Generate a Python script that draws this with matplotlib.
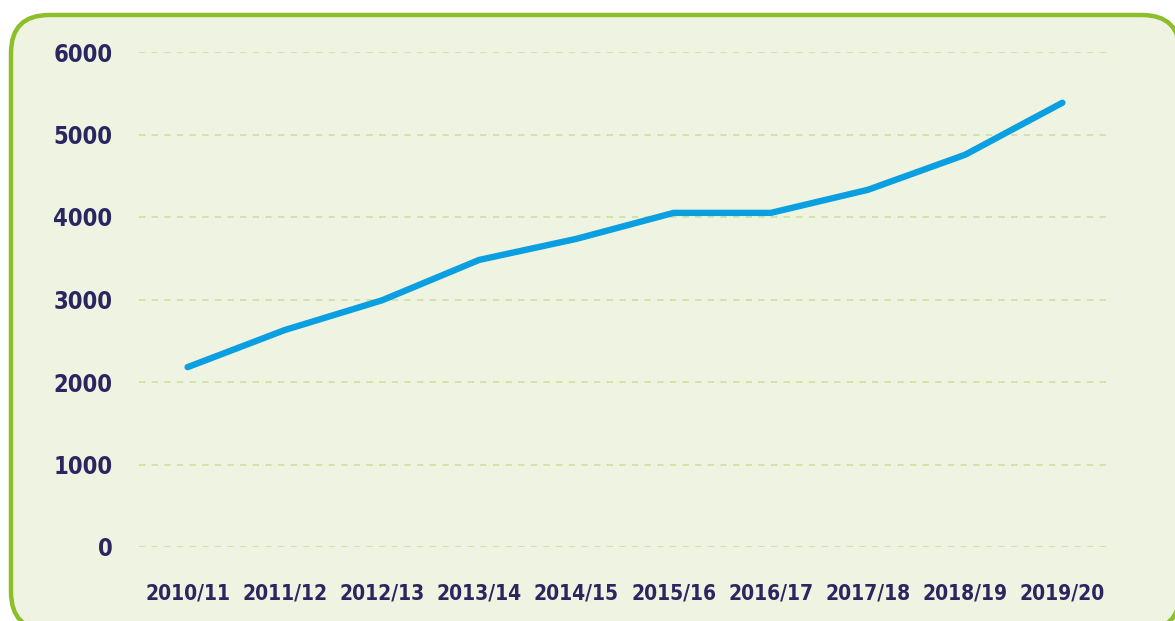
import matplotlib
matplotlib.use("Agg")
import matplotlib.pyplot as plt
from matplotlib.patches import FancyBboxPatch
from matplotlib import font_manager as fm

years = ["2010/11", "2011/12", "2012/13", "2013/14", "2014/15",
         "2015/16", "2016/17", "2017/18", "2018/19", "2019/20"]
values = [2180, 2630, 2990, 3480, 3735, 4050, 4050, 4330, 4755, 5385]
yticks = [0, 1000, 2000, 3000, 4000, 5000, 6000]

W, H = 1175, 621
fig = plt.figure(figsize=(W / 100, H / 100), dpi=100)
fig.patch.set_facecolor("white")

# condensed bold font if available
cond = None
for f in fm.fontManager.ttflist:
    if "DejaVuSansCondensed-Bold.ttf" in f.fname or "LiberationSansNarrow-Bold.ttf" in f.fname:
        cond = f.fname
        break
txt_col = "#2b2660"

bg = fig.add_axes([0, 0, 1, 1], zorder=0)
bg.set_xlim(0, W)
bg.set_ylim(H, 0)
bg.axis("off")
panel = FancyBboxPatch((11 + 38, 15 + 38), 1180 - 11 - 76, 630 - 15 - 76,
                       boxstyle="round,pad=38",
                       facecolor="#eff4e2", edgecolor="#8cbf2a", linewidth=3.2)
bg.add_patch(panel)

ax = fig.add_axes([139 / W, 1 - 547 / H, (1111 - 139) / W, (547 - 52) / H], zorder=1)
ax.patch.set_alpha(0)
x = list(range(len(years)))
ax.plot(x, values, color="#0a9fe0", linewidth=4.6, solid_capstyle="round",
        solid_joinstyle="round", clip_on=False, zorder=3)
ax.set_xlim(-0.5, len(years) - 0.5)
ax.set_ylim(0, 6000)
ax.set_yticks(yticks)
ax.set_yticklabels([str(v) for v in yticks])
ax.set_xticks(x)
ax.set_xticklabels(years)
for sp in ax.spines.values():
    sp.set_visible(False)
ax.tick_params(axis="both", length=0, colors=txt_col)
ax.tick_params(axis="y", pad=19)
ax.tick_params(axis="x", pad=26)
for lab in ax.get_yticklabels() + ax.get_xticklabels():
    if cond:
        lab.set_fontproperties(fm.FontProperties(fname=cond))
    else:
        lab.set_fontweight("bold")
for lab in ax.get_yticklabels():
    lab.set_fontsize(17)
for lab in ax.get_xticklabels():
    lab.set_fontsize(15)
ax.grid(axis="y", color="#d0e2a0", linestyle=(0, (3.5, 3.5)), linewidth=1.3)
ax.set_axisbelow(True)

fig.savefig("out.png", dpi=100, facecolor="white")
